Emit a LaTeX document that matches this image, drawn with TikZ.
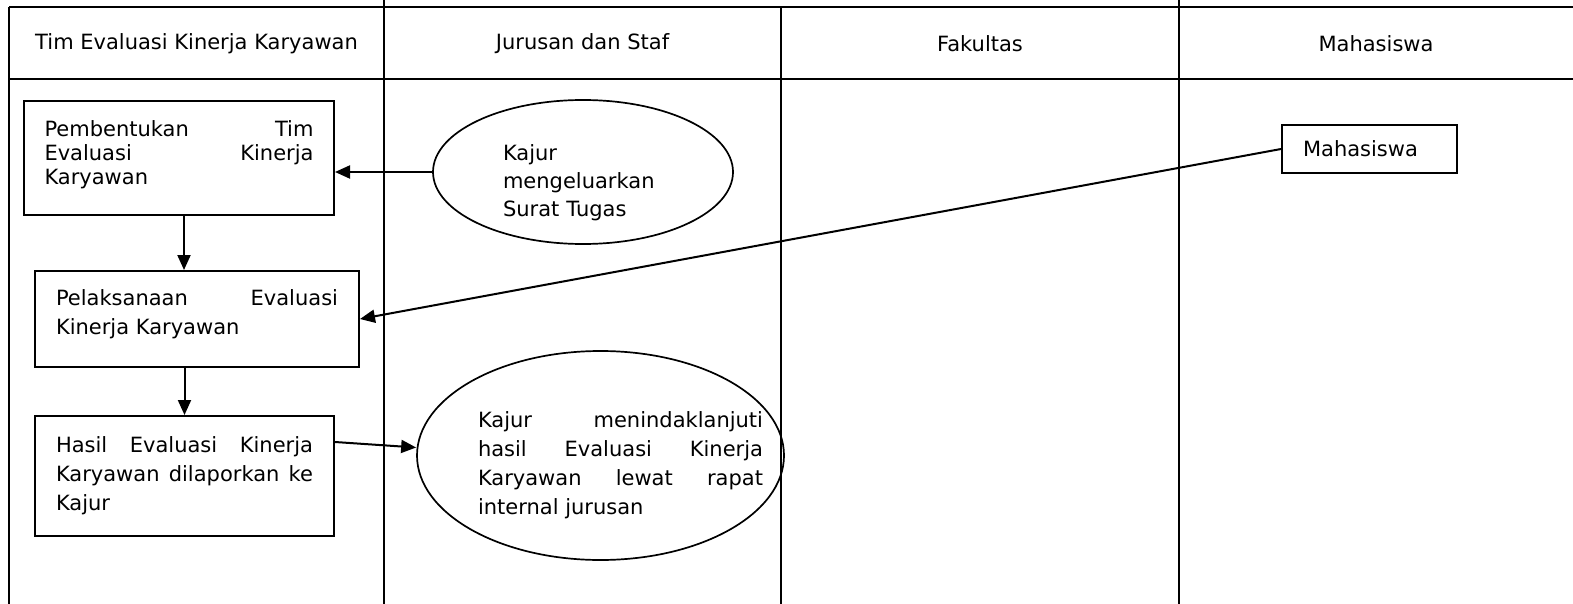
\documentclass[tikz,border=0pt]{standalone}
\usepackage{fontspec}
\setmainfont{DejaVu Sans}
\usetikzlibrary{shapes.geometric,arrows.meta}

\begin{document}
\begin{tikzpicture}[x=1pt, y=-1pt,
    box/.style = {draw, rectangle, line width=2pt, inner sep=0pt, align=justify, font=\fontsize{21}{29}\selectfont},
    oval/.style = {draw, ellipse, line width=1.7pt, inner sep=0pt},
    head/.style = {font=\fontsize{21}{25}\selectfont},
    tbl/.style = {line width=2pt},
    arr/.style = {-{Triangle[length=15pt,width=13pt]}, line width=2pt}]
    \useasboundingbox (0,0) rectangle (1573,604);
    % swimlane table
    \draw[tbl] (9,7) -- (1573,7);
    \draw[tbl] (9,79) -- (1573,79);
    \draw[tbl] (9,7) -- (9,604);
    \draw[tbl] (384,0) -- (384,604);
    \draw[tbl] (781,7) -- (781,604);
    \draw[tbl] (1179,0) -- (1179,604);
    \node[head] (h1) at (196.5,44) {Tim Evaluasi Kinerja Karyawan};
    \node[head] (h2) at (582.5,44) {Jurusan dan Staf};
    \node[head] (h3) at (980,44) {Fakultas};
    \node[head] (h4) at (1376,44) {Mahasiswa};
    % process
    \node[box, font=\fontsize{21}{24}\selectfont, minimum width=310pt, minimum height=114pt, text width=269pt] (box1) at (179,158)
        {Pembentukan Tim\linebreak Evaluasi Kinerja\linebreak Karyawan\par\kern6pt};
    \node[box, minimum width=324pt, minimum height=96pt, text width=282pt] (box2) at (197,319)
        {Pelaksanaan Evaluasi\linebreak Kinerja Karyawan\par\kern10pt};
    \node[box, minimum width=299pt, minimum height=120pt, text width=257pt] (box3) at (184.5,476)
        {Hasil Evaluasi Kinerja\linebreak Karyawan dilaporkan ke\linebreak Kajur};
    \node[oval, minimum width=300pt, minimum height=144pt, text width=160pt, align=left, font=\fontsize{21}{28}\selectfont] (kajur1) at (583,172)
        {Kajur\\ mengeluarkan\\ Surat Tugas\par\kern-22pt};
    \node[oval, minimum width=367pt, minimum height=209pt] (kajur2) at (600.5,455.5) {};
    \node[align=justify, text width=285pt, inner sep=0pt, font=\fontsize{21}{29}\selectfont] (kajur2txt) at (620.5,465.5)
        {Kajur menindaklanjuti\linebreak hasil Evaluasi Kinerja\linebreak Karyawan lewat rapat\linebreak internal jurusan};
    \node[box, align=left, minimum width=175pt, minimum height=48pt, text width=133pt] (mhs) at (1369.5,149) {Mahasiswa};
    % arrows
    \draw[arr] (kajur1.west) -- (kajur1.west -| box1.east);
    \draw[arr] ([xshift=5pt]box1.south) -- ([xshift=5pt]box1.south |- box2.north);
    \draw[arr] (mhs.west) -- (box2.east);
    \draw[arr] (box3.north |- box2.south) -- (box3.north);
    \draw[arr] ([yshift=34pt]box3.east) -- ([yshift=8pt]kajur2.west);
\end{tikzpicture}
\end{document}
